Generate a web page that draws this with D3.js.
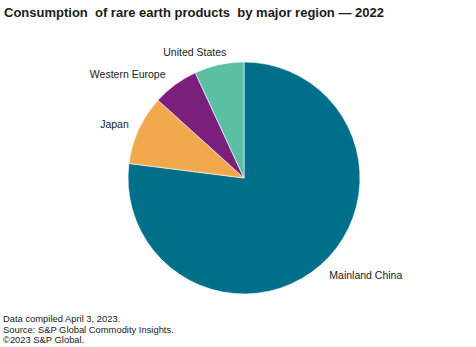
<!DOCTYPE html>
<html><head><meta charset="utf-8">
<script src="https://cdn.jsdelivr.net/npm/d3@7"></script>
<style>
html,body{margin:0;padding:0;background:#fff;}
text{font-family:"Liberation Sans",Arial,sans-serif;}
</style></head>
<body>
<svg id="chart" width="476" height="347"></svg>
<script>
const categories = ["Mainland China", "Japan", "Western Europe", "United States"];
const shares = [77.0, 9.7, 6.4, 6.9];
const colors = ["#006F8A", "#F2A84C", "#7A1F7C", "#5BBFA3"];
const titleText = "Consumption  of rare earth products  by major region \u2014 2022";
const footnotes = ["Data compiled April 3, 2023.", "Source: S&P Global Commodity Insights.", "\u00A92023 S&P Global."];

const svg = d3.select("#chart");
const cx = 244, cy = 178, r = 116;

svg.append("text").attr("x", 4).attr("y", 17)
  .style("white-space", "pre")
  .attr("font-size", 13).attr("font-weight", "bold").attr("fill", "#1a1a1a")
  .text(titleText);

const data = categories.map((c, i) => ({name: c, value: shares[i], color: colors[i]}));
const pie = d3.pie().value(d => d.value).sort(null);
const arcs = pie(data);
const arc = d3.arc().innerRadius(0).outerRadius(r);

const g = svg.append("g").attr("transform", `translate(${cx},${cy})`);
g.selectAll("path").data(arcs).join("path")
  .attr("d", arc).attr("fill", d => d.data.color)
  .attr("stroke", "#fff").attr("stroke-width", 0.6);

// small layout nudges for label placement (best-fit style)
const labelNudge = {"United States": 10, "Western Europe": -2, "Japan": 2};
const labelR = 129;
g.selectAll("text.lbl").data(arcs).join("text")
  .attr("class", "lbl")
  .each(function(d) {
    const a = (d.startAngle + d.endAngle) / 2;
    const x = Math.sin(a) * labelR + (labelNudge[d.data.name] || 0), y = -Math.cos(a) * labelR;
    d3.select(this).attr("x", x).attr("y", y + 4)
     .attr("text-anchor", Math.sin(a) >= 0 ? "start" : "end");
  })
  .attr("font-size", 10.5).attr("fill", "#1a1a1a")
  .text(d => d.data.name);

svg.selectAll("text.foot").data(footnotes).join("text")
  .attr("class", "foot")
  .attr("x", 3).attr("y", (d, i) => 322 + i * 10.5)
  .attr("font-size", 9.4).attr("fill", "#1a1a1a")
  .text(d => d);
</script>
</body></html>
